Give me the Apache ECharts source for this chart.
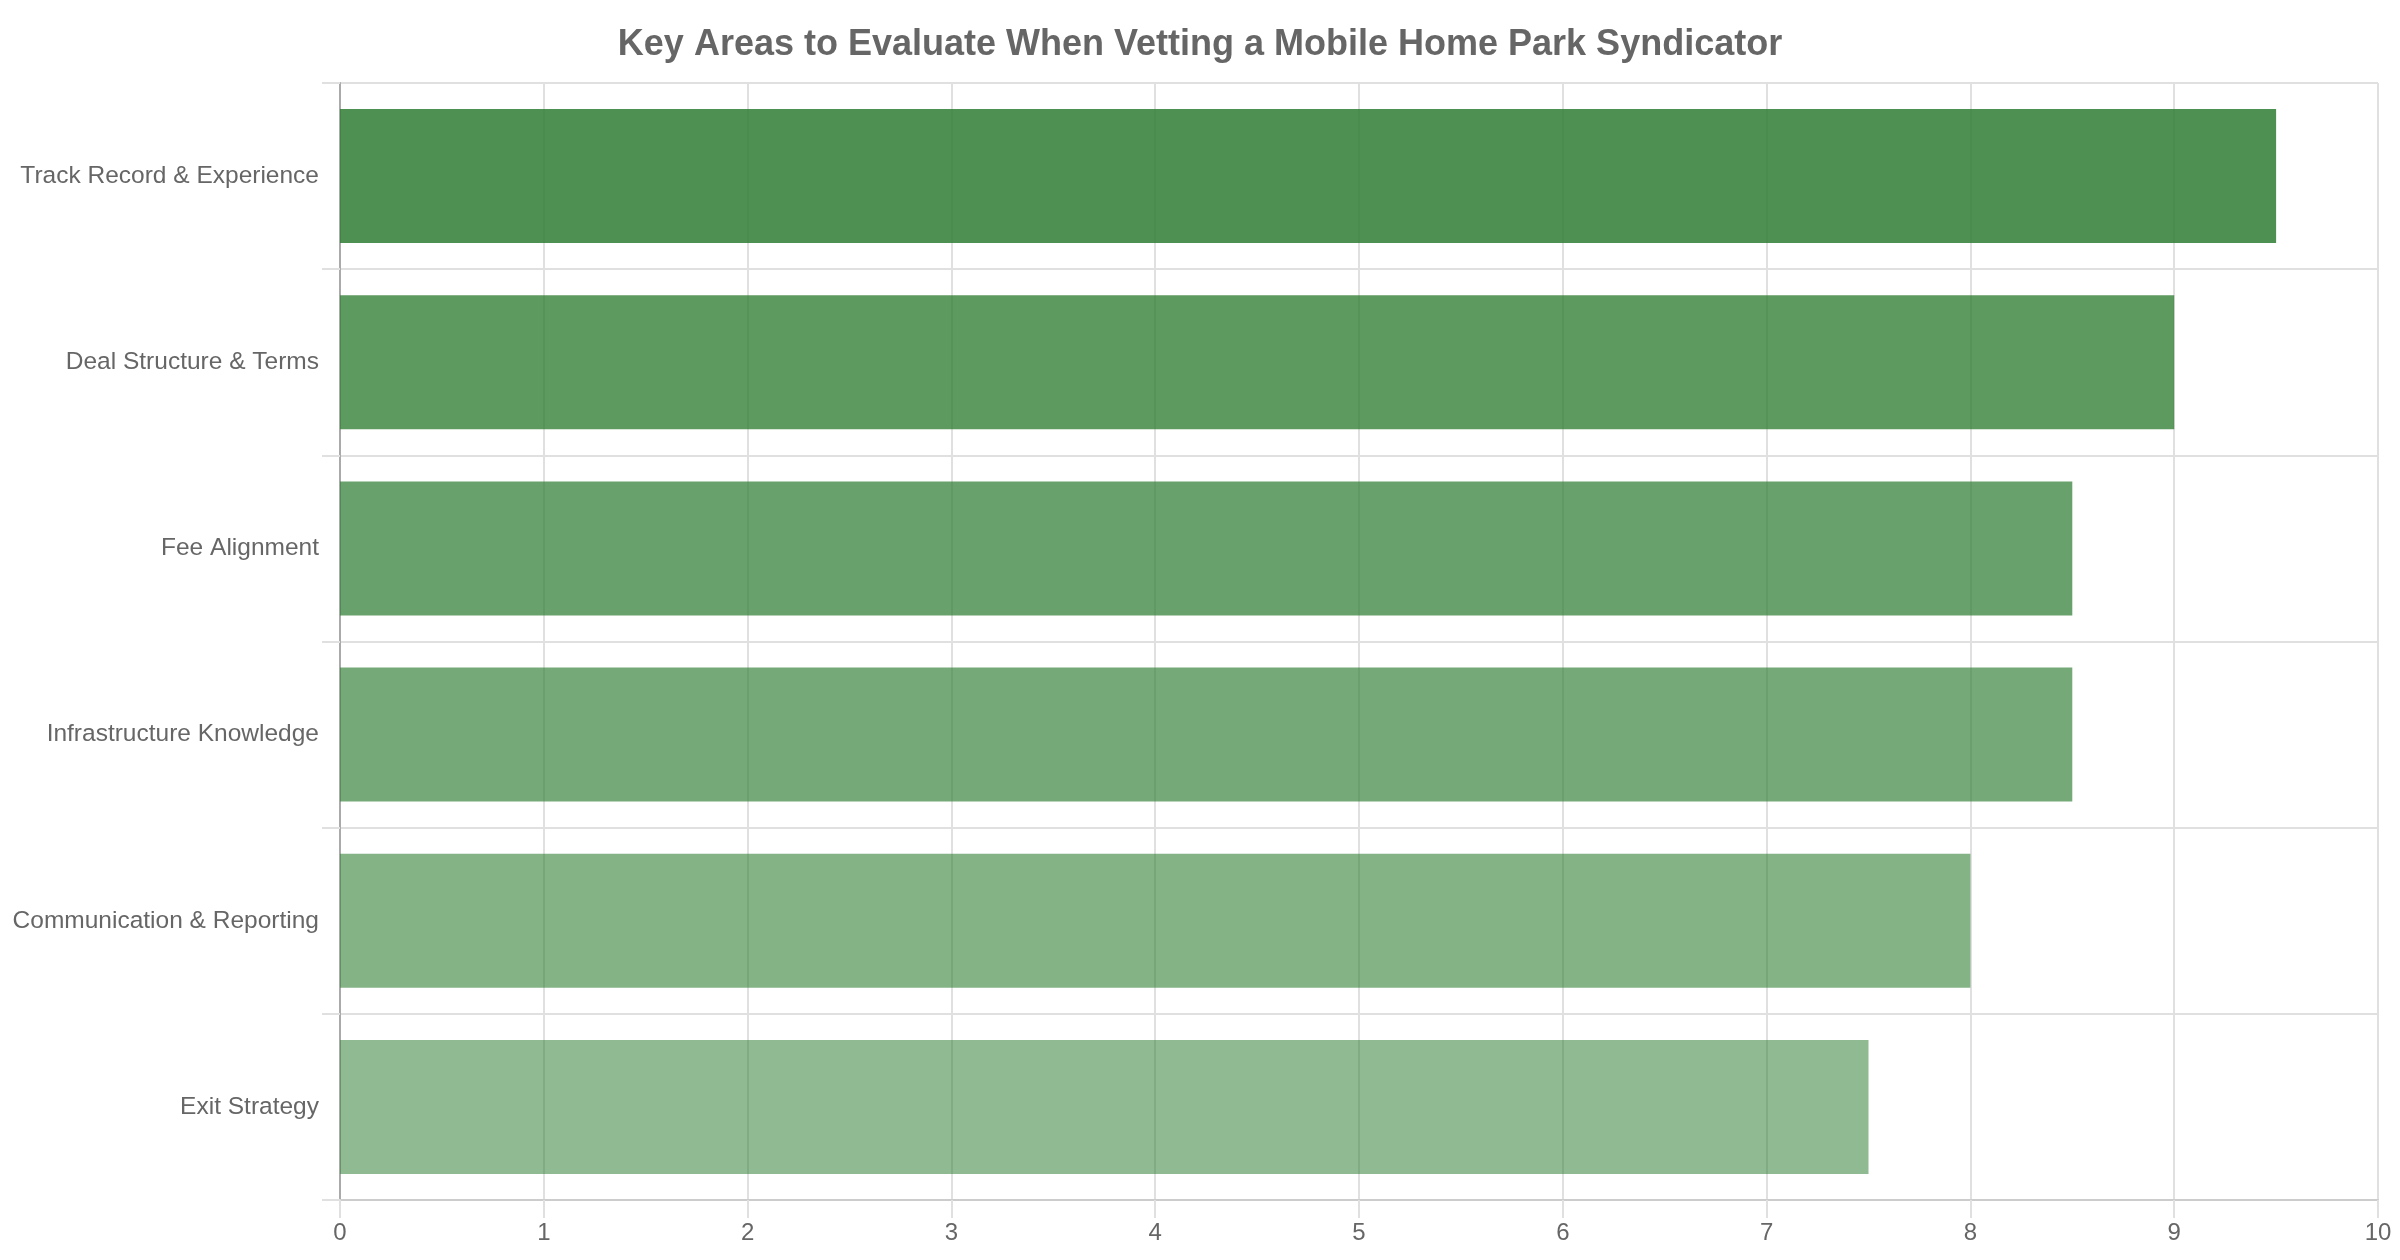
<!DOCTYPE html>
<html>
<head>
<meta charset="utf-8">
<title>Key Areas to Evaluate</title>
<script src="https://cdn.jsdelivr.net/npm/echarts@6/dist/echarts.min.js"></script>
<style>
  html, body { margin: 0; padding: 0; background: #fff; }
  #chart { width: 2400px; height: 1260px; }
</style>
</head>
<body>
<div id="chart"></div>
<script>
// data
var categories = ["Track Record & Experience", "Deal Structure & Terms", "Fee Alignment",
                  "Infrastructure Knowledge", "Communication & Reporting", "Exit Strategy"];
var scores = [9.5, 9, 8.5, 8.5, 8, 7.5];
var xTicks = [0, 1, 2, 3, 4, 5, 6, 7, 8, 9, 10];

// bar shading, darkest on top
var barAlpha = [0.85, 0.78, 0.72, 0.66, 0.59, 0.53];

var chart = echarts.init(document.getElementById('chart'));

var barData = [];
for (var i = 0; i < scores.length; i++) {
    barData.push({
        value: scores[i],
        itemStyle: { color: 'rgba(46,125,50,' + barAlpha[i] + ')' }
    });
}

var option = {
    backgroundColor: '#fff',
    animation: false,
    title: {
        text: 'Key Areas to Evaluate When Vetting a Mobile Home Park Syndicator',
        left: 'center',
        top: 22,
        textStyle: {
            fontFamily: 'Liberation Sans, Arial, sans-serif',
            fontSize: 36,
            fontWeight: 'bold',
            color: '#666'
        }
    },
    grid: { left: 340, right: 22, top: 83, bottom: 60 },
    xAxis: {
        type: 'value',
        min: xTicks[0],
        max: xTicks[xTicks.length - 1],
        interval: 1,
        axisLine: { show: true, lineStyle: { color: '#ccc', width: 2 } },
        axisTick: { show: true, length: 18, lineStyle: { color: '#e0e0e0', width: 2 } },
        axisLabel: {
            margin: 21,
            fontFamily: 'Liberation Sans, Arial, sans-serif',
            fontSize: 24,
            color: '#666'
        },
        splitLine: { show: true, lineStyle: { color: '#e0e0e0', width: 2 } }
    },
    yAxis: {
        type: 'category',
        data: categories,
        inverse: true,
        axisLine: { show: true, lineStyle: { color: '#aaa', width: 2 } },
        axisTick: { show: true, length: 18, lineStyle: { color: '#e0e0e0', width: 2 } },
        axisLabel: {
            margin: 21,
            fontFamily: 'Liberation Sans, Arial, sans-serif',
            fontSize: 24.5,
            color: '#666'
        },
        splitLine: { show: true, lineStyle: { color: '#e0e0e0', width: 2 } }
    },
    series: [{
        type: 'bar',
        data: barData,
        barCategoryGap: '28%'
    }]
};

chart.setOption(option);
</script>
</body>
</html>
